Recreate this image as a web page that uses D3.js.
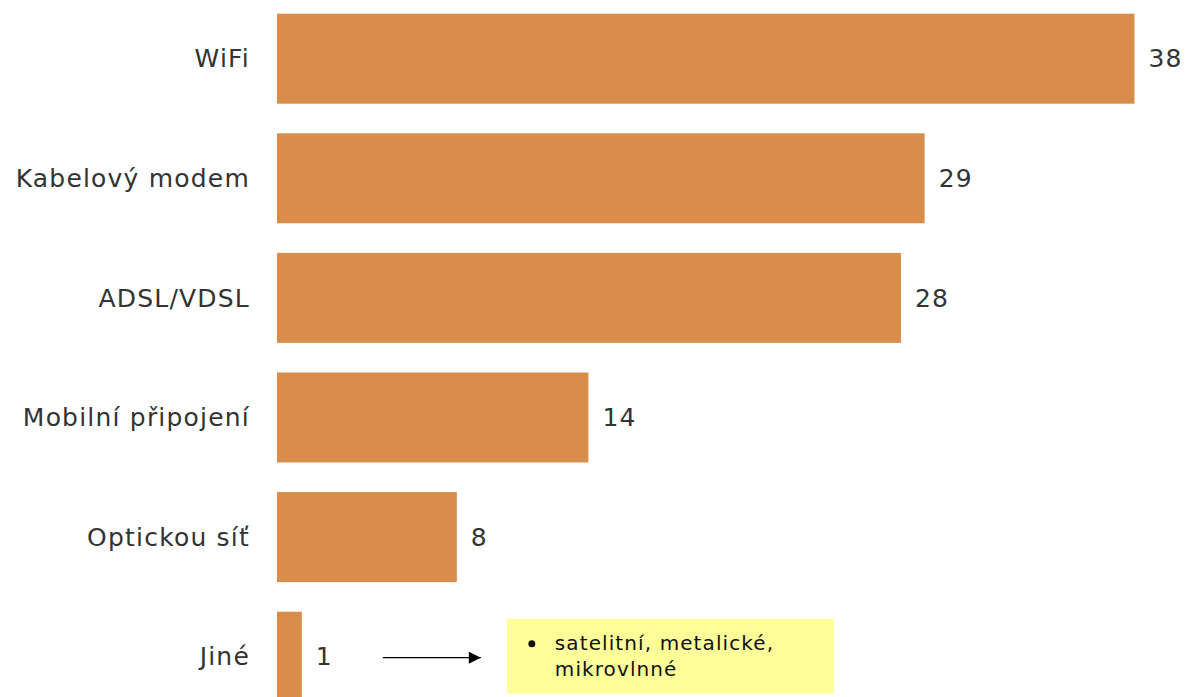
<!DOCTYPE html>
<html>
<head>
<meta charset="utf-8">
<script src="https://cdn.jsdelivr.net/npm/d3@7"></script>
<style>
  html, body { margin: 0; padding: 0; background: #fff; }
  svg { display: block; font-family: "DejaVu Sans", Verdana, sans-serif; }
</style>
</head>
<body>
<div id="chart"></div>
<script>
// Categories and values (percent)
const categories = ["WiFi", "Kabelový modem", "ADSL/VDSL", "Mobilní připojení", "Optickou síť", "Jiné"];
const values = [38, 28.7, 27.65, 13.8, 7.97, 1.1];
const noteLines = ["satelitní, metalické,", "mikrovlnné"];

let width = 1187;
let height = 697;

const svg = d3.select("#chart")
  .append("svg")
  .attr("width", width)
  .attr("height", height);

// x: value -> horizontal position
const x = d3.scaleLinear()
  .domain([0, 38])
  .range([277, 1134.5]);

// y: one band per category, last one runs off the bottom
const y = d3.scaleBand()
  .domain(categories)
  .range([-1.1, 716.5])
  .paddingInner(0.2475)
  .paddingOuter(0.12375);

const data = categories.map((c, i) => ({ cat: c, val: values[i] }));

// bars
svg.selectAll("rect.bar")
  .data(data)
  .enter()
  .append("rect")
  .attr("class", "bar")
  .attr("x", x(0))
  .attr("y", d => y(d.cat))
  .attr("width", d => x(d.val) - x(0))
  .attr("height", y.bandwidth())
  .style("fill", "#D98D4A");

// category labels (axis without line/ticks)
const yAxis = svg.append("g")
  .attr("transform", "translate(" + (x(0) - 28) + ",0)")
  .call(d3.axisLeft(y).tickSize(0).tickPadding(0));
yAxis.select(".domain").remove();
yAxis.selectAll("text")
  .style("font-family", "'DejaVu Sans', Verdana, sans-serif")
  .style("font-size", "25px")
  .style("letter-spacing", "1.2px")
  .style("fill", "#333")
  .attr("dx", "1px")
  .attr("dy", "0.35em");

// value labels
svg.selectAll("text.val")
  .data(data)
  .enter()
  .append("text")
  .attr("class", "val")
  .attr("x", d => x(d.val) + 14)
  .attr("y", d => y(d.cat) + y.bandwidth() / 2)
  .attr("dy", "0.35em")
  .style("font-size", "25px")
  .style("letter-spacing", "1.2px")
  .style("fill", "#333")
  .text(d => d3.format(".0f")(d.val));

// annotation for "Jiné": arrow + yellow note box
const last = data[data.length - 1];
const cy = y(last.cat) + y.bandwidth() / 2;

svg.append("defs")
  .append("marker")
  .attr("id", "arrow")
  .attr("viewBox", "0 0 10 10")
  .attr("refX", 10)
  .attr("refY", 5)
  .attr("markerWidth", 13)
  .attr("markerHeight", 12)
  .attr("markerUnits", "userSpaceOnUse")
  .attr("orient", "auto")
  .append("path")
  .attr("d", "M0,0 L10,5 L0,10 Z")
  .style("fill", "#000");

svg.append("line")
  .attr("x1", x(last.val) + 81)
  .attr("x2", x(last.val) + 179)
  .attr("y1", cy + 1)
  .attr("y2", cy + 1)
  .style("stroke", "#000")
  .style("stroke-width", 1.3)
  .attr("marker-end", "url(#arrow)");

const boxX = x(last.val) + 205;
const boxY = cy - 38;
svg.append("rect")
  .attr("x", boxX)
  .attr("y", boxY)
  .attr("width", 327)
  .attr("height", 75)
  .style("fill", "#FFFF99");

svg.append("circle")
  .attr("cx", boxX + 25)
  .attr("cy", boxY + 25)
  .attr("r", 3.5)
  .style("fill", "#111");

svg.selectAll("text.note")
  .data(noteLines)
  .enter()
  .append("text")
  .attr("class", "note")
  .attr("x", boxX + 48)
  .attr("y", (d, i) => boxY + 31 + i * 26)
  .style("font-size", "20px")
  .style("letter-spacing", "1.1px")
  .style("fill", "#111")
  .text(d => d);
</script>
</body>
</html>
